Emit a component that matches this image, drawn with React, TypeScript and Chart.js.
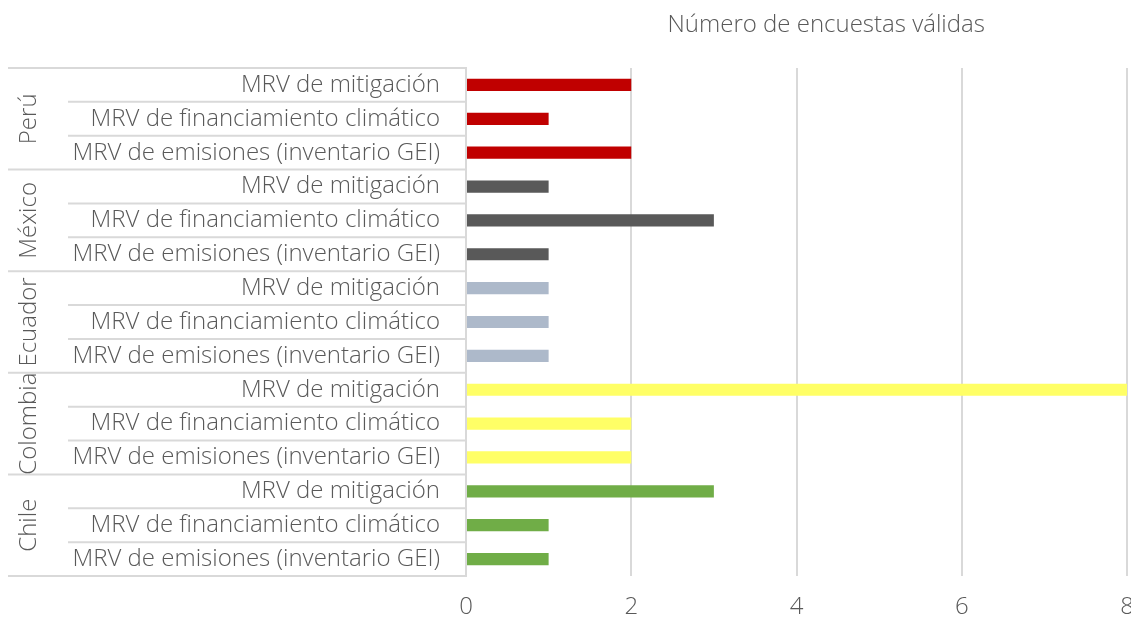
import React, { useEffect, useRef } from "react";
import { Chart, registerables } from "chart.js";

Chart.register(...registerables);

const countries = ["Perú", "México", "Ecuador", "Colombia", "Chile"];
const mrvTypes = [
  "MRV de mitigación",
  "MRV de financiamiento climático",
  "MRV de emisiones (inventario GEI)",
];
const peru = [2, 1, 2];
const mexico = [1, 3, 1];
const ecuador = [1, 1, 1];
const colombia = [8, 2, 2];
const chile = [3, 1, 1];
const countryColors = ["#C00000", "#595959", "#ADB9CA", "#FFFF66", "#70AD47"];
const xTicks = [0, 2, 4, 6, 8];
const axisTitle = "Número de encuestas válidas";

const FONT = "'Open Sans', 'Noto Sans', sans-serif";
const TEXT = "#595959";
const LINE = "#D9D9D9";
const FS = 24;

export default function App() {
  const ref = useRef<HTMLCanvasElement | null>(null);

  useEffect(() => {
    document.body.style.margin = "0";
    const seriesByCountry = [peru, mexico, ecuador, colombia, chile];
    const labels: string[] = [];
    const values: number[] = [];
    const colors: string[] = [];
    countries.forEach((c, ci) => {
      mrvTypes.forEach((t, ti) => {
        labels.push(t);
        values.push(seriesByCountry[ci][ti]);
        colors.push(countryColors[ci]);
      });
    });

    const tablePlugin = {
      id: "tablePlugin",
      afterDraw(chart: any) {
        const { ctx, chartArea, scales } = chart;
        const y = scales.y;
        const n = labels.length;
        const axisX = chartArea.left;
        ctx.save();
        ctx.strokeStyle = LINE;
        ctx.lineWidth = 2;
        for (let i = 0; i <= n; i++) {
          let yy: number;
          if (i === 0) yy = chartArea.top;
          else if (i === n) yy = chartArea.bottom;
          else yy = (y.getPixelForValue(i - 1) + y.getPixelForValue(i)) / 2;
          const x0 = i % 3 === 0 ? 8 : 68;
          ctx.beginPath();
          ctx.moveTo(x0, yy);
          ctx.lineTo(axisX, yy);
          ctx.stroke();
        }
        // group labels
        ctx.fillStyle = TEXT;
        ctx.font = `300 ${FS}px ${FONT}`;
        ctx.textAlign = "center";
        ctx.textBaseline = "middle";
        countries.forEach((c, ci) => {
          const cy = (y.getPixelForValue(ci * 3) + y.getPixelForValue(ci * 3 + 2)) / 2;
          ctx.save();
          ctx.translate(29, cy);
          ctx.rotate(-Math.PI / 2);
          ctx.fillText(c, 0, 0);
          ctx.restore();
        });
        // axis title at top
        ctx.fillText(axisTitle, chartArea.left + (chartArea.right - chartArea.left) * 0.545, 25);
        ctx.restore();
      },
    };

    const chart = new Chart(ref.current!, {
      type: "bar",
      data: {
        labels,
        datasets: [
          {
            data: values,
            backgroundColor: colors,
            borderWidth: 0,
            barPercentage: 0.36,
            categoryPercentage: 1,
          },
        ],
      },
      options: {
        indexAxis: "y",
        animation: false,
        responsive: false,
        maintainAspectRatio: false,
        layout: { padding: { top: 68, right: 4, bottom: 0, left: 0 } },
        plugins: { legend: { display: false }, tooltip: { enabled: false } },
        scales: {
          x: {
            min: xTicks[0],
            max: xTicks[xTicks.length - 1],
            afterBuildTicks: (scale: any) => {
              scale.ticks = xTicks.map((v) => ({ value: v }));
            },
            afterFit: (scale: any) => {
              scale.height = 42;
              scale.paddingRight = 0;
              scale.paddingLeft = 0;
            },
            grid: { color: LINE, lineWidth: 2, drawTicks: false },
            border: { display: false },
            ticks: {
              padding: 17,
              color: TEXT,
              font: { family: FONT, size: FS, weight: "300" as any },
              maxRotation: 0,
            },
          },
          y: {
            afterFit: (scale: any) => {
              scale.width = 466;
              scale.paddingTop = 0;
              scale.paddingBottom = 0;
            },
            grid: { display: false, drawTicks: false },
            border: { display: true, color: LINE, width: 2 },
            ticks: {
              padding: 26,
              color: TEXT,
              autoSkip: false,
              font: { family: FONT, size: FS, weight: "300" as any },
            },
          },
        },
      },
      plugins: [tablePlugin],
    });
    return () => chart.destroy();
  }, []);

  return (
    <div style={{ width: 1131, height: 618, overflow: "hidden" }}>
      <canvas ref={ref} width={1131} height={618} />
    </div>
  );
}
